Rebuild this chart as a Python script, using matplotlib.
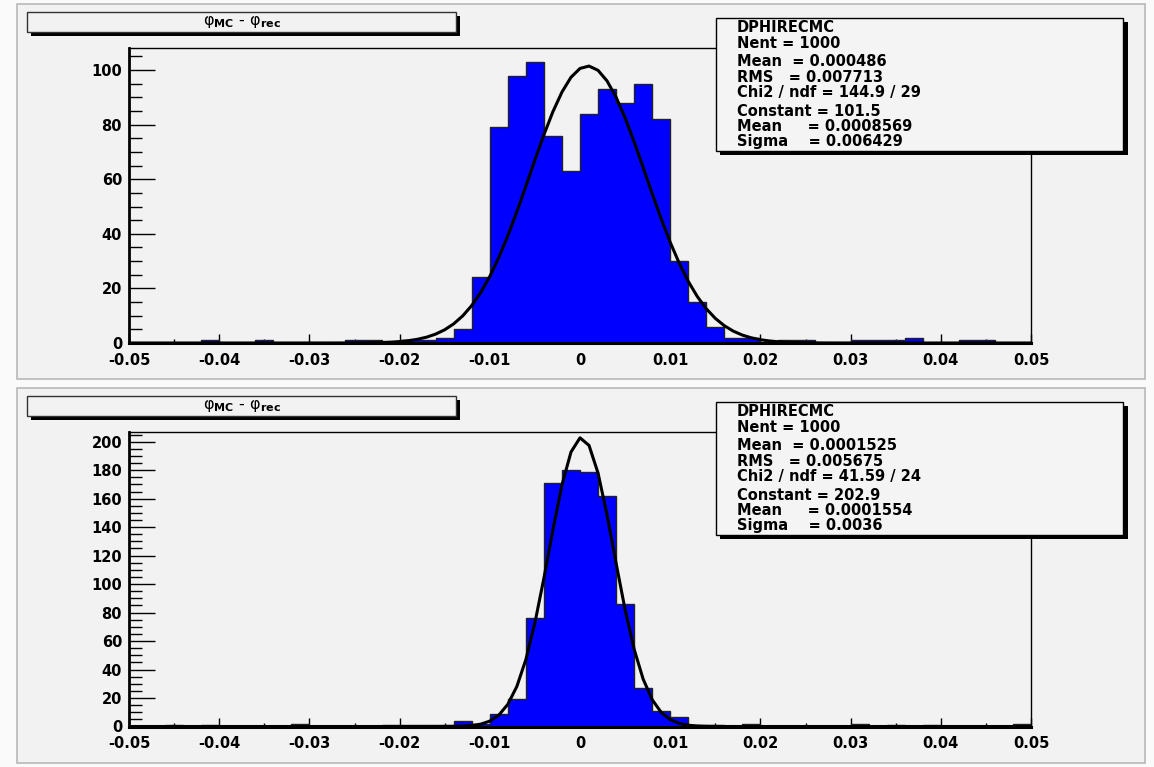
import numpy as np
import matplotlib
matplotlib.use("Agg")
import matplotlib.pyplot as plt
import matplotlib.transforms as mtrans
from matplotlib.patches import Rectangle
from matplotlib.ticker import MultipleLocator, FuncFormatter

plt.rcParams['font.family'] = ['DejaVu Sans']
plt.rcParams['mathtext.fontset'] = 'dejavusans'

# datos: histogramas de 50 bins entre -0.05 y 0.05
bin_edges = np.linspace(-0.05, 0.05, 51)

top_counts = [0, 0, 0, 0, 1, 0, 0, 1, 0, 0,
              0, 0, 1, 1, 0, 1, 1, 2, 5, 24,
              79, 98, 103, 76, 63, 84, 93, 88, 95, 82,
              30, 15, 6, 2, 2, 0, 1, 1, 0, 0,
              1, 1, 1, 2, 0, 0, 1, 1, 0, 0]

bot_counts = [0, 0, 1, 0, 1, 0, 0, 0, 0, 2,
              0, 0, 0, 0, 1, 1, 1, 1, 4, 2,
              9, 19, 76, 171, 180, 179, 162, 86, 27, 11,
              7, 1, 1, 0, 2, 0, 0, 0, 0, 0,
              2, 0, 1, 0, 1, 0, 0, 0, 0, 2]

# parametros del ajuste gaussiano (caja de estadisticas)
top_fit = (101.5, 0.0008569, 0.006429)
bot_fit = (202.9, 0.0001554, 0.0036)

top_stats = ["DPHIRECMC", "Nent = 1000", "Mean  = 0.000486", "RMS   = 0.007713",
             "Chi2 / ndf = 144.9 / 29", "Constant = 101.5", "Mean     = 0.0008569",
             "Sigma    = 0.006429"]
bot_stats = ["DPHIRECMC", "Nent = 1000", "Mean  = 0.0001525", "RMS   = 0.005675",
             "Chi2 / ndf = 41.59 / 24", "Constant = 202.9", "Mean     = 0.0001554",
             "Sigma    = 0.0036"]

titulo = r'φ$_{\mathbf{MC}}$ - φ$_{\mathbf{rec}}$'

W, H = 1154, 767
BG = '#f2f2f2'

fig = plt.figure(figsize=(W / 100, H / 100), dpi=100)
fig.patch.set_facecolor('#fafafa')


def fx(px):
    return px / W


def fy(py):
    return 1 - py / H


def rect(x0, y0, x1, y1, **kw):
    r = Rectangle((fx(x0), fy(y1)), fx(x1) - fx(x0), fy(y0) - fy(y1),
                  transform=fig.transFigure, **kw)
    fig.add_artist(r)
    return r


def gauss(x, c, m, s):
    return c * np.exp(-0.5 * ((x - m) / s) ** 2)


def fmt_x(v, pos):
    if abs(v) < 1e-9:
        return "0"
    return "%.2f" % v


def panel(pad_y0, pad_y1, frame_y0, frame_y1, counts, fit, ymax, ymajor, stats,
          box_y0, box_y1, line_y):
    # pad
    rect(17, pad_y0, 1145, pad_y1, facecolor=BG, edgecolor='#b8b8b8', lw=1.2, zorder=-2)

    ax = fig.add_axes([fx(129), fy(frame_y1), fx(1031) - fx(129), fy(frame_y0) - fy(frame_y1)])
    ax.set_facecolor('none')
    ax.stairs(counts, bin_edges, fill=True, facecolor='#0000ff', edgecolor='none', zorder=2)
    ax.stairs(counts, bin_edges, fill=False, edgecolor='#222222', lw=1, zorder=3)

    xf = np.linspace(-0.05, 0.05, 101)
    ax.plot(xf, gauss(xf, *fit), color='black', lw=2.2, zorder=4)

    ax.set_xlim(-0.05, 0.05)
    ax.set_ylim(0, ymax)
    ax.xaxis.set_major_locator(MultipleLocator(0.01))
    ax.xaxis.set_minor_locator(MultipleLocator(0.005))
    ax.yaxis.set_major_locator(MultipleLocator(ymajor))
    ax.yaxis.set_minor_locator(MultipleLocator(5))
    ax.xaxis.set_major_formatter(FuncFormatter(fmt_x))
    ax.tick_params(axis='x', which='major', direction='in', length=6.5, width=1, pad=7,
                   labelsize=10.5)
    ax.tick_params(axis='x', which='minor', direction='in', length=3.2, width=1)
    ax.tick_params(axis='y', which='major', direction='in', length=19, width=1, pad=5,
                   labelsize=10.5)
    ax.tick_params(axis='y', which='minor', direction='in', length=9.5, width=1)
    for lab in ax.get_xticklabels() + ax.get_yticklabels():
        lab.set_fontweight('bold')
    # la etiqueta "0" del eje y va un poco mas arriba, como en ROOT
    ylab0 = ax.get_yticklabels()[0]
    ylab0.set_transform(ylab0.get_transform() +
                        mtrans.ScaledTranslation(0, 3 / 100, fig.dpi_scale_trans))
    ax.spines['left'].set_linewidth(2)
    ax.spines['bottom'].set_linewidth(2.2)
    ax.spines['top'].set_linewidth(1)
    ax.spines['right'].set_linewidth(1)
    ax.spines['bottom'].set_zorder(5)

    # caja del titulo
    rect(31, line_y + 4, 460, line_y + 24, facecolor='black', edgecolor='none', zorder=5)
    rect(27, line_y, 456, line_y + 20, facecolor=BG, edgecolor='#333333', lw=1, zorder=6)
    fig.text(fx(242), fy(line_y + 10), titulo, ha='center', va='center',
             fontsize=11.5, zorder=7)

    # caja de estadisticas
    rect(720, box_y0 + 4, 1128, box_y1 + 4, facecolor='black', edgecolor='none', zorder=5)
    rect(716, box_y0, 1123, box_y1, facecolor='#f4f4f4', edgecolor='black', lw=1, zorder=6)
    offs = [10, 25, 43.5, 59, 75, 93.5, 108.5, 123.5]
    for t, o in zip(stats, offs):
        fig.text(fx(737), fy(box_y0 + o), t, ha='left', va='center', fontsize=10.5,
                 fontweight='bold', zorder=7)
    return ax


panel(4, 379, 47.7, 343, top_counts, top_fit, 108.2, 20, top_stats, 18, 151, 12)
panel(388, 763, 431.7, 726.5, bot_counts, bot_fit, 207, 20, bot_stats, 402, 535, 396)

fig.savefig('out.png', dpi=100, facecolor=fig.get_facecolor())
